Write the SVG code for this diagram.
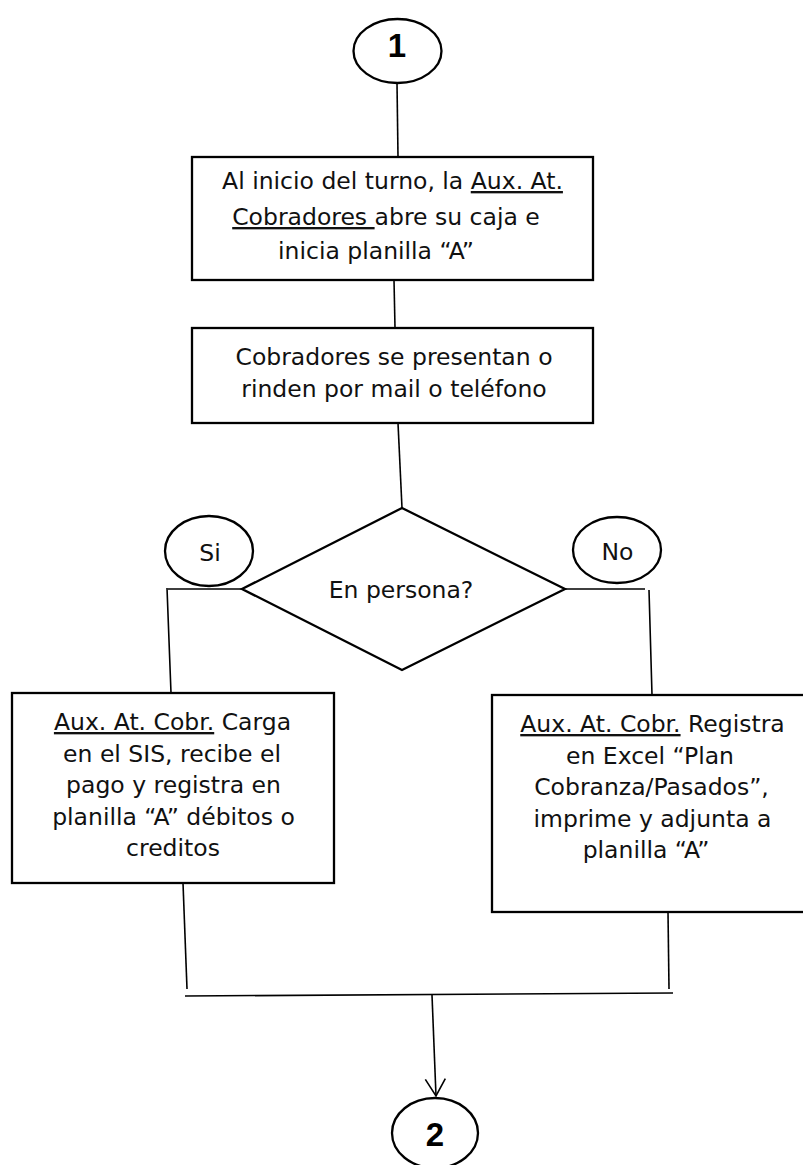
<svg xmlns="http://www.w3.org/2000/svg" width="803" height="1165" viewBox="0 0 803 1165">
  <style>
    .shape { fill: #ffffff; stroke: #000000; stroke-width: 2.3; }
    .conn { fill: none; stroke: #000000; stroke-width: 1.6; }
    .lbl { font-family: "DejaVu Sans", "Liberation Sans", sans-serif; font-size: 23.5px; fill: #111111; text-anchor: middle; }
    .num { font-family: "Liberation Sans", Arial, sans-serif; font-size: 33px; font-weight: bold; fill: #000000; text-anchor: middle; }
    .u { text-decoration: underline; }
  </style>
  <defs>
    <marker id="openArrow" markerUnits="userSpaceOnUse" markerWidth="24" markerHeight="24" viewBox="-20 -12 22 24" refX="0" refY="0" orient="auto">
      <path d="M-17,-10 L0,0 L-17,10" fill="none" stroke="#000000" stroke-width="1.6"/>
    </marker>
  </defs>

  <rect x="0" y="0" width="803" height="1165" fill="#ffffff"/>

  <!-- connectors -->
  <g id="connectors">
    <path class="conn" d="M397,83 L398,157"/>
    <path class="conn" d="M394,280 L395,328"/>
    <path class="conn" d="M398,423 L402,508"/>
    <path class="conn" d="M242,589 H168 M167,588 L171,693"/>
    <path class="conn" d="M565,589 H645 M649,590 L652,695"/>
    <path class="conn" d="M183,883 L187,989"/>
    <path class="conn" d="M668,912 L669,989"/>
    <path class="conn" d="M185,996 L673,993"/>
    <path class="conn" d="M432,995 L436,1096" marker-end="url(#openArrow)"/>
  </g>

  <!-- start connector -->
  <g id="start1">
    <ellipse class="shape" cx="397.5" cy="51" rx="44" ry="32"/>
    <text class="num" x="397" y="57">1</text>
  </g>

  <!-- opening of the cash box -->
  <g id="abrirCaja">
    <rect class="shape" x="192" y="157" width="401" height="123"/>
    <text class="lbl" x="392.5" y="189">Al inicio del turno, la <tspan class="u">Aux. At.</tspan></text>
    <text class="lbl" x="386" y="225"><tspan class="u">Cobradores </tspan>abre su caja e</text>
    <text class="lbl" x="376" y="259">inicia planilla “A”</text>
  </g>

  <!-- collectors report -->
  <g id="cobradores">
    <rect class="shape" x="192" y="328" width="401" height="95"/>
    <text class="lbl" x="394" y="365">Cobradores se presentan o</text>
    <text class="lbl" x="394" y="397">rinden por mail o teléfono</text>
  </g>

  <!-- decision -->
  <g id="enPersona">
    <polygon class="shape" points="402,508 565,589 402,670 242,589"/>
    <text class="lbl" x="401" y="598">En persona?</text>
  </g>

  <g id="si">
    <ellipse class="shape" cx="209" cy="551" rx="44" ry="35"/>
    <text class="lbl" x="210" y="561">Si</text>
  </g>

  <g id="no">
    <ellipse class="shape" cx="617" cy="550" rx="44" ry="33"/>
    <text class="lbl" x="617.5" y="560">No</text>
  </g>

  <!-- in person: SIS -->
  <g id="cargaSIS">
    <rect class="shape" x="12" y="693" width="322" height="190"/>
    <text class="lbl" x="172.5" y="730"><tspan class="u">Aux. At. Cobr.</tspan> Carga</text>
    <text class="lbl" x="172" y="761.5">en el SIS, recibe el</text>
    <text class="lbl" x="173.5" y="793">pago y registra en</text>
    <text class="lbl" x="173.5" y="824.5">planilla “A” débitos o</text>
    <text class="lbl" x="173" y="856">creditos</text>
  </g>

  <!-- remote: Excel -->
  <g id="registraExcel">
    <rect class="shape" x="492" y="695" width="322" height="217"/>
    <text class="lbl" x="652.5" y="732"><tspan class="u">Aux. At. Cobr.</tspan> Registra</text>
    <text class="lbl" x="650" y="763.5">en Excel “Plan</text>
    <text class="lbl" x="651.5" y="795">Cobranza/Pasados”,</text>
    <text class="lbl" x="652.5" y="826.5">imprime y adjunta a</text>
    <text class="lbl" x="646" y="858">planilla “A”</text>
  </g>

  <!-- end connector -->
  <g id="end2">
    <ellipse class="shape" cx="435" cy="1133" rx="43" ry="35"/>
    <text class="num" x="435" y="1146">2</text>
  </g>
</svg>
